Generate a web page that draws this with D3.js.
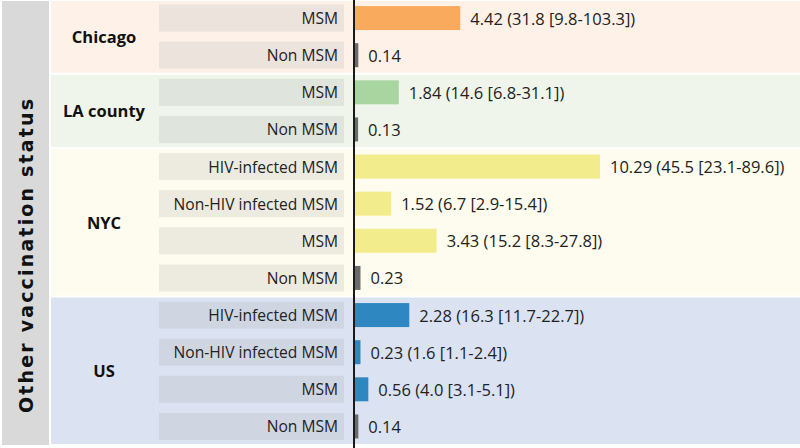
<!DOCTYPE html>
<html>
<head>
<meta charset="utf-8">
<script src="https://cdn.jsdelivr.net/npm/d3@7"></script>
<style>
  html, body { margin: 0; padding: 0; background: #ffffff; }
  svg { display: block; }
  text { font-family: "Open Sans", "Noto Sans", sans-serif; }
</style>
</head>
<body>
<svg id="chart" width="800" height="448"></svg>
<script>
// ---- data ----
const groups = ["Chicago", "LA county", "NYC", "US"];
const groupCategories = [
  ["MSM", "Non MSM"],
  ["MSM", "Non MSM"],
  ["HIV-infected MSM", "Non-HIV infected MSM", "MSM", "Non MSM"],
  ["HIV-infected MSM", "Non-HIV infected MSM", "MSM", "Non MSM"]
];
const groupValues = [
  [4.42, 0.14],
  [1.84, 0.13],
  [10.29, 1.52, 3.43, 0.23],
  [2.28, 0.23, 0.56, 0.14]
];
const groupDetails = [
  ["(31.8 [9.8-103.3])", ""],
  ["(14.6 [6.8-31.1])", ""],
  ["(45.5 [23.1-89.6])", "(6.7 [2.9-15.4])", "(15.2 [8.3-27.8])", ""],
  ["(16.3 [11.7-22.7])", "(1.6 [1.1-2.4])", "(4.0 [3.1-5.1])", ""]
];
const yTitle = "Other vaccination status";

// ---- styles ----
const panelColors = ["#fdf1e8", "#eff5eb", "#fdfcee", "#dbe3f2"];
const boxColors   = ["#ece3dc", "#dfe4dc", "#edebe0", "#cfd6e2"];
const barColors   = ["#f9aa5c", "#a9d6a0", "#f3ec8c", "#2e87c1"];
const refColor = "#6b6b6b";

// ---- build rows ----
const rows = [];
groups.forEach((g, gi) => {
  groupCategories[gi].forEach((c, ci) => {
    rows.push({ id: gi + "-" + ci, group: g, gi, cat: c, value: groupValues[gi][ci], detail: groupDetails[gi][ci] });
  });
});

const svg = d3.select("#chart");
const W = 800, H = 448;

const y = d3.scaleBand().domain(rows.map(d => d.id)).range([-0.5, 445]).paddingInner(0).paddingOuter(0);
const x0 = 355;
const x = d3.scaleLinear().domain([0, 10.29]).range([x0, 600]);

// left title column
svg.append("rect").attr("x", 2).attr("y", 1).attr("width", 47).attr("height", 444).attr("fill", "#d9d9d9");
svg.append("text")
  .attr("transform", `translate(${26},${256}) rotate(-90)`)
  .attr("text-anchor", "middle").attr("dominant-baseline", "central")
  .style("font-family", "'DejaVu Sans', sans-serif")
  .attr("font-size", 19).attr("font-weight", 700).attr("fill", "#111")
  .attr("textLength", 314).attr("lengthAdjust", "spacing")
  .text(yTitle);

// group panels
groups.forEach((g, gi) => {
  const gr = rows.filter(r => r.gi === gi);
  const top = Math.max(1, y(gr[0].id) + 1);
  const bot = y(gr[gr.length - 1].id) + y.bandwidth() - 1;
  svg.append("rect").attr("x", 51).attr("y", top).attr("width", W - 51).attr("height", bot - top)
    .attr("fill", panelColors[gi]);
  svg.append("text")
    .attr("x", 104).attr("y", (top + bot) / 2)
    .attr("text-anchor", "middle").attr("dominant-baseline", "central")
    .attr("font-size", 16.5).attr("font-weight", 700).attr("fill", "#111")
    .text(g);
});

// category label boxes
const rowG = svg.selectAll("g.row").data(rows).join("g").attr("class", "row")
  .attr("transform", d => `translate(0,${y(d.id) + y.bandwidth() / 2})`);

rowG.append("rect").attr("x", 159).attr("y", -13.5).attr("width", 185).attr("height", 27)
  .attr("fill", d => boxColors[d.gi]);
rowG.append("text").attr("x", 338).attr("y", 0)
  .attr("text-anchor", "end").attr("dominant-baseline", "central")
  .attr("font-size", 15.6).attr("fill", "#222")
  .text(d => d.cat);

// bars
rowG.append("rect").attr("x", x(0)).attr("y", -12)
  .attr("width", d => x(d.value) - x(0)).attr("height", 24)
  .attr("fill", d => d.cat === "Non MSM" ? refColor : barColors[d.gi]);

// value labels
rowG.append("text").attr("x", d => x(d.value) + 10).attr("y", 0)
  .attr("dominant-baseline", "central")
  .attr("font-size", 16.5).attr("fill", "#222")
  .text(d => d.detail ? `${d.value.toFixed(2)} ${d.detail}` : d.value.toFixed(2));

// axis line
svg.append("line").attr("x1", 354).attr("x2", 354).attr("y1", 0).attr("y2", H)
  .attr("stroke", "#1a1a1a").attr("stroke-width", 2);
</script>
</body>
</html>
